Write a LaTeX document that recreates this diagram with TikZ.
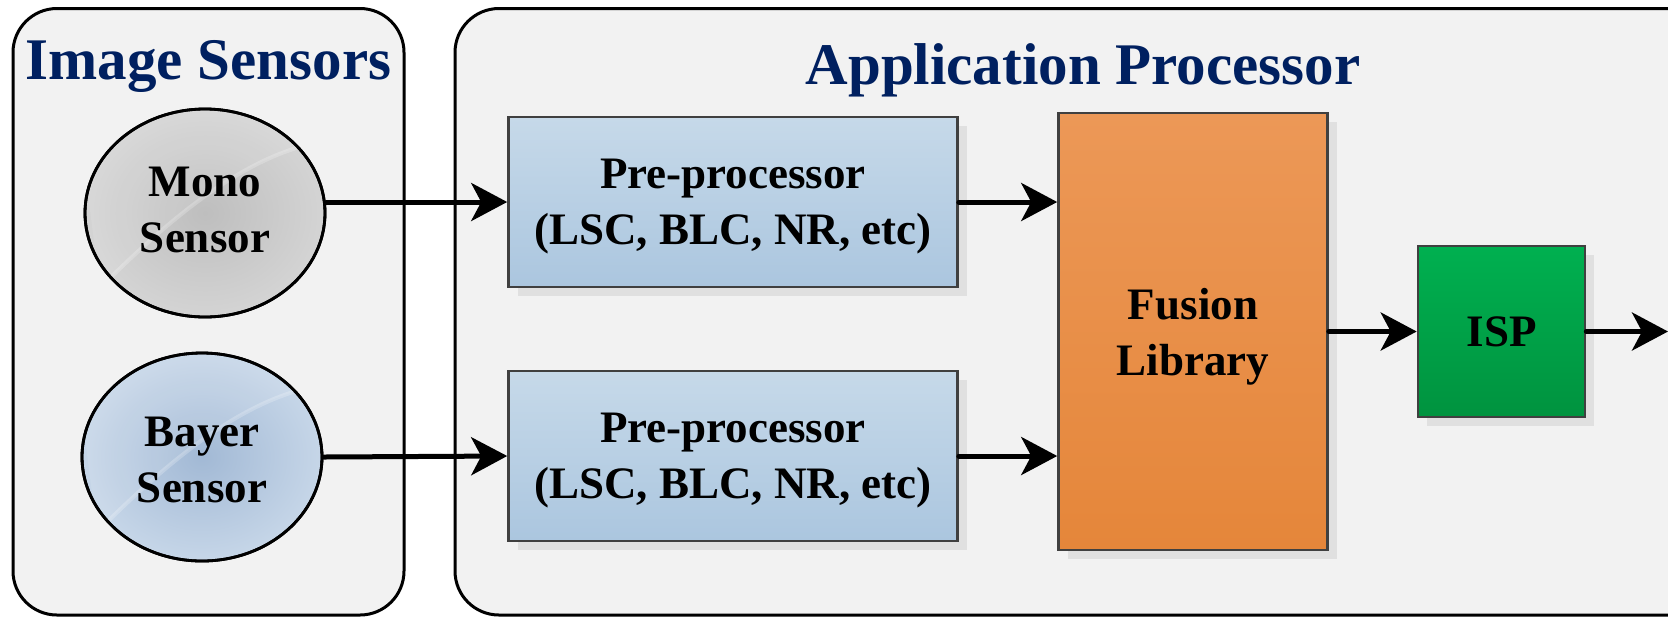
\documentclass[tikz,border=0pt]{standalone}
\usepackage{fontspec}
\setmainfont{Liberation Serif}
\usetikzlibrary{arrows.meta,shapes.geometric,shadows,calc}

\definecolor{panelfill}{HTML}{F2F2F2}
\definecolor{titleblue}{HTML}{002060}
\definecolor{boxedge}{HTML}{404040}
\definecolor{preTop}{HTML}{C6D9E9}
\definecolor{preBot}{HTML}{ABC6DF}
\definecolor{fusTop}{HTML}{EC9857}
\definecolor{fusBot}{HTML}{E5863A}
\definecolor{ispTop}{HTML}{00B050}
\definecolor{ispBot}{HTML}{00933F}
\definecolor{monoIn}{HTML}{BEBEBE}
\definecolor{monoOut}{HTML}{D4D4D4}
\definecolor{bayIn}{HTML}{A2B9D5}
\definecolor{bayOut}{HTML}{C6D6E8}

\tikzset{
  panel/.style={draw=black, line width=1.5pt, fill=panelfill, rounded corners=22pt,
    rectangle, inner sep=0pt},
  paneltitle/.style={text=titleblue, font=\bfseries\fontsize{29.5}{34}\selectfont,
    inner sep=0pt, anchor=base},
  blocktext/.style={font=\bfseries\fontsize{22.5}{28}\selectfont, align=center,
    text=black, text depth=0pt},
  block/.style={blocktext, rectangle, draw=boxedge, line width=1.3pt, inner sep=0pt,
    general shadow={fill=black!12, shadow xshift=4.5pt, shadow yshift=-4.5pt}},
  sensor/.style={ellipse, draw=black, line width=1.4pt, inner sep=0pt,
    minimum width=120pt, minimum height=104pt},
  flow/.style={line width=2.5pt, line cap=round,
    -{Stealth[length=18pt, width=19pt, inset=5pt]}}
}

\begin{document}
\begin{tikzpicture}[x=0.5pt, y=-0.5pt]
  \useasboundingbox (0,0) rectangle (1668,618);
  \clip (0,0) rectangle (1668,618);

  % container panels
  \node[panel, minimum width=195.5pt, minimum height=303.25pt] (lpanel) at (208.5,311.75) {};
  \node[panel, minimum width=630pt, minimum height=303.25pt] (rpanel) at (1085,311.75) {};
  \node[paneltitle] (ltitle) at (208.5,79) {Image Sensors};
  \node[paneltitle] (rtitle) at (1083,84) {Application Processor};

  % sensors with a soft glossy sheen
  \node[sensor, inner color=monoIn, outer color=monoOut] (mono) at (205,213) {};
  \node[sensor, inner color=bayIn, outer color=bayOut] (bayer) at (202,457) {};
  \foreach \s in {mono,bayer}{
    \begin{scope}
      \clip (\s.center) ellipse [x radius=119, y radius=103];
      \fill[white, opacity=0.10]
        ($(\s.center)+(-105,75)$) .. controls ($(\s.center)+(-30,0)$) and ($(\s.center)+(40,-55)$) .. ($(\s.center)+(110,-70)$)
        -- ($(\s.center)+(130,-120)$) -- ($(\s.center)+(-130,-120)$) -- cycle;
      \draw[white, opacity=0.22, line width=2pt]
        ($(\s.center)+(-105,75)$) .. controls ($(\s.center)+(-30,0)$) and ($(\s.center)+(40,-55)$) .. ($(\s.center)+(110,-70)$);
    \end{scope}
    \draw[black, line width=1.4pt] (\s.center) ellipse [x radius=120, y radius=104];
  }
  \node[blocktext] (monolabel) at (205,210) {Mono\\Sensor};
  \node[blocktext] (bayerlabel) at (202,460) {Bayer\\Sensor};

  % processing blocks
  \node[block, top color=preTop, bottom color=preBot,
        minimum width=224.5pt, minimum height=85pt] (pre1) at (733,202)
        {Pre-processor\\(LSC, BLC, NR, etc)};
  \node[block, top color=preTop, bottom color=preBot,
        minimum width=224.5pt, minimum height=85pt] (pre2) at (733,456)
        {Pre-processor\\(LSC, BLC, NR, etc)};
  \node[block, top color=fusTop, bottom color=fusBot,
        minimum width=134.5pt, minimum height=218.5pt] (fusion) at (1193,331.5)
        {Fusion\\Library};
  \node[block, top color=ispTop, bottom color=ispBot,
        minimum width=83.5pt, minimum height=85.5pt] (isp) at (1501.5,331.5) {ISP};

  \coordinate (out) at (1668,331.5);

  % data flow
  \draw[flow] (pre1.west -| mono.east) -- (pre1.west);
  \draw[flow] (bayer.east) -- (pre2.west);
  \draw[flow] (pre1.east) -- (pre1.east -| fusion.west);
  \draw[flow] (pre2.east) -- (pre2.east -| fusion.west);
  \draw[flow] (fusion.east) -- (isp.west);
  \draw[flow] (isp.east) -- (out);
\end{tikzpicture}
\end{document}
